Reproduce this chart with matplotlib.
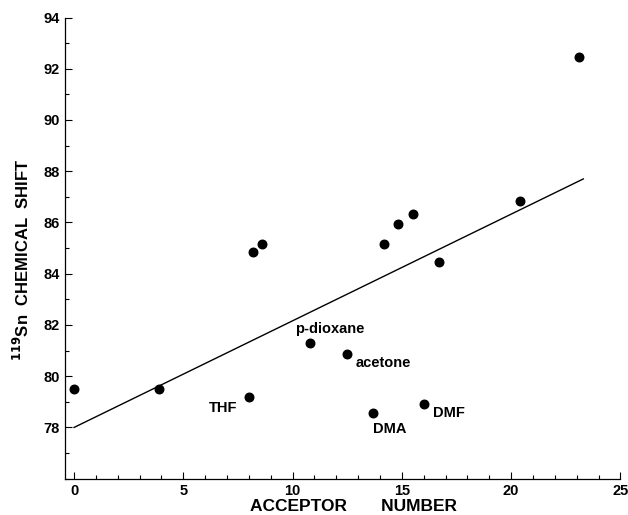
import matplotlib
matplotlib.use("Agg")
import matplotlib.pyplot as plt
from matplotlib.ticker import MultipleLocator

plt.rcParams['font.family'] = ['Liberation Sans', 'DejaVu Sans']

# Data (acceptor number vs 119Sn chemical shift)
acceptor = [0.0, 3.9, 8.0, 8.2, 8.6, 10.8, 12.5, 13.7, 14.2, 14.8, 15.5, 16.0, 16.7, 20.4, 23.1]
shift = [79.5, 79.5, 79.2, 84.85, 85.15, 81.3, 80.85, 78.55, 85.15, 85.95, 86.35, 78.9, 84.45, 86.85, 92.45]

fit_x = [0.0, 23.3]
fit_y = [78.0, 87.7]

labels = ["THF", "p-dioxane", "acetone", "DMA", "DMF"]
label_x = [8.0, 10.8, 12.5, 13.7, 16.0]
label_y = [79.2, 81.3, 80.85, 78.55, 78.9]

fig = plt.figure(figsize=(6.28, 5.15), dpi=100)
ax = fig.add_axes([0.104, 0.0705, 0.884, 0.8955])

ax.plot(fit_x, fit_y, color='black', lw=1.0)
ax.scatter(acceptor, shift, s=38, color='black', zorder=3)

# label offsets in points (text placement relative to point)
offsets = [(-8.4, -8, 'right', 'center'),
           (14, 10, 'center', 'center'),
           (6.3, -6.5, 'left', 'center'),
           (0, -11, 'left', 'center'),
           (6.5, -6.5, 'left', 'center')]
for t, x, y, (dx, dy, ha, va) in zip(labels, label_x, label_y, offsets):
    ax.annotate(t, (x, y), xytext=(dx, dy), textcoords='offset points',
                ha=ha, va=va, fontsize=10.5, fontweight='bold')

ax.set_xlim(-0.4, 25)
ax.set_ylim(76, 94)
ax.set_xticks([0, 5, 10, 15, 20, 25])
ax.set_yticks([78, 80, 82, 84, 86, 88, 90, 92, 94])
ax.xaxis.set_minor_locator(MultipleLocator(1))
ax.yaxis.set_minor_locator(MultipleLocator(1))
ax.tick_params(which='both', direction='in', width=0.8, labelsize=10.5)
ax.tick_params(which='major', length=5, pad=4)
ax.tick_params(which='minor', length=3)
for lab in ax.get_xticklabels() + ax.get_yticklabels():
    lab.set_fontweight('bold')
ax.spines['top'].set_visible(False)
ax.spines['right'].set_visible(False)
ax.spines['left'].set_linewidth(0.9)
ax.spines['bottom'].set_linewidth(0.9)

ax.set_xlabel("ACCEPTOR       NUMBER", fontsize=12.5, fontweight='bold')
ax.xaxis.set_label_coords(0.519, -0.045, transform=ax.transAxes)
ax.xaxis.label.set_va('top')
ax.set_ylabel(r"$\mathbf{^{119}}$Sn  CHEMICAL  SHIFT", fontsize=12, fontweight='bold')
ax.yaxis.set_label_coords(-0.06, 0.474)

fig.savefig("out.png", dpi=100)
